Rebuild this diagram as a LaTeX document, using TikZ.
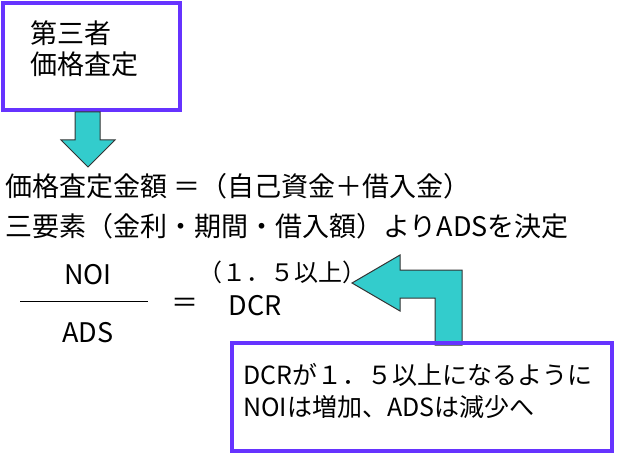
\documentclass[tikz,border=0pt]{standalone}
\usepackage{fontspec}
\setmainfont{Noto Sans CJK JP}
\definecolor{boxline}{HTML}{6633FF}
\definecolor{arrowfill}{HTML}{33CCCC}
\begin{document}
\begin{tikzpicture}[x=1pt,y=-1pt,
  frame box/.style={draw=boxline,line width=3.5pt},
  big arrow/.style={fill=arrowfill,draw=black!80,line width=1pt},
  txt/.style={font=\fontsize{27}{31}\selectfont,inner sep=0pt}]
\useasboundingbox (0,0) rectangle (620,454);
%top box
  \draw[frame box] (3,3) rectangle (180,110);
  \node[txt,align=left,anchor=north west] (assess) at (30,20) {第三者\\価格査定};
%down arrow
  \draw[big arrow] (75,112) -- (100,112) -- (100,140) -- (115,140) -- (88,167)
    -- (61,140) -- (75,140) -- cycle;
%equations
  \node[txt,anchor=west] (line1) at (5,186) {価格査定金額 ＝（自己資金＋借入金）};
  \node[txt,anchor=west] (line2) at (5,226) {三要素（金利・期間・借入額）よりADSを決定};
  \node[txt] (noi) at (88,275) {NOI};
  \node[txt] (ads) at (88,333) {ADS};
  \draw[line width=1pt] (20,301) -- (148,301);
  \node[txt] (eq) at (185,305) {＝};
  \node[txt,font=\fontsize{24}{29}\selectfont] (cond) at (282,272) {（１．５以上）};
  \node[txt] (dcr) at (255,306) {DCR};
%L arrow
  \draw[big arrow] (352,283) -- (400,255) -- (400,270) -- (462,270) -- (462,345)
    -- (435,345) -- (435,298) -- (400,298) -- (400,311) -- cycle;
%bottom box
  \draw[frame box] (232,343) rectangle (612,451);
  \node[txt,font=\fontsize{25}{32}\selectfont,align=left,anchor=north west] (note) at (243,363)
    {DCRが１．５以上になるように\\NOIは増加、ADSは減少へ};
\end{tikzpicture}
\end{document}
